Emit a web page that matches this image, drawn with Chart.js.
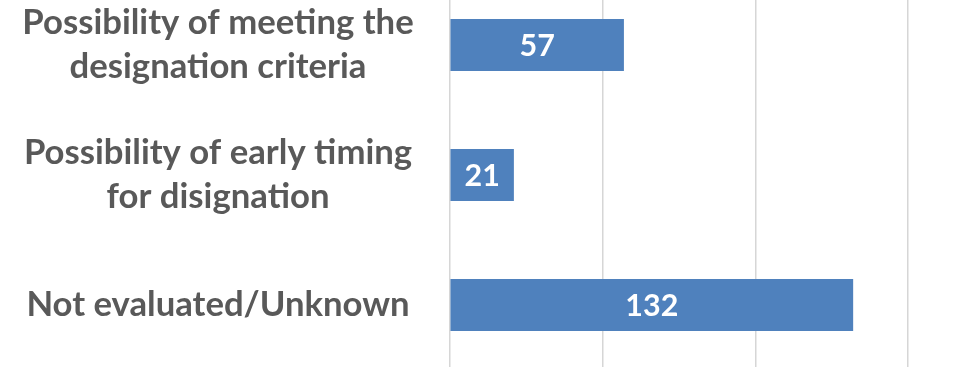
<!DOCTYPE html>
<html>
<head>
<meta charset="utf-8">
<script src="https://cdn.jsdelivr.net/npm/chart.js@4/dist/chart.umd.min.js"></script>
<style>
  html, body { margin: 0; padding: 0; background: #ffffff; overflow: hidden; width: 956px; height: 367px; }
  #wrap { position: absolute; left: 0; top: -20px; width: 1061px; height: 390px; }
</style>
</head>
<body>
<div id="wrap"><canvas id="c"></canvas></div>
<script>
// ---- data ----
const categories = [
  ["Possibility of meeting the", "designation criteria"],
  ["Possibility of early timing", "for disignation"],
  "Not evaluated/Unknown"
];
const values = [57, 21, 132];
const xTicks = [0, 50, 100, 150, 200];

// ---- font sizing (fit label widths to reference) ----
const FAMILY = "Lato, 'Open Sans', sans-serif";
function fitSize(text, target, weight) {
  const cx = document.createElement('canvas').getContext('2d');
  cx.font = weight + ' 100px ' + FAMILY;
  return 100 * target / cx.measureText(text).width;
}
const labelSize = (fitSize("Possibility of meeting the", 391, 'bold') + fitSize("Not evaluated/Unknown", 384, 'bold')) / 2;
const valueSize = fitSize("132", 53, 'bold');

const valueLabels = {
  id: 'valueLabels',
  afterDatasetsDraw(chart) {
    const ctx = chart.ctx;
    const meta = chart.getDatasetMeta(0);
    ctx.save();
    ctx.fillStyle = '#ffffff';
    ctx.font = 'bold ' + valueSize + 'px ' + FAMILY;
    ctx.textAlign = 'center';
    ctx.textBaseline = 'middle';
    meta.data.forEach((el, i) => {
      const p = el.getProps(['x', 'y', 'base'], true);
      ctx.fillText(String(chart.data.datasets[0].data[i]), (p.x + p.base) / 2, p.y + 1);
    });
    ctx.restore();
  }
};

new Chart(document.getElementById('c'), {
  type: 'bar',
  data: {
    labels: categories,
    datasets: [{
      data: values,
      backgroundColor: '#4F81BD',
      borderWidth: 0,
      barPercentage: 0.4,
      categoryPercentage: 1.0
    }]
  },
  options: {
    indexAxis: 'y',
    responsive: true,
    maintainAspectRatio: false,
    animation: false,
    layout: { padding: 0 },
    plugins: { legend: { display: false }, tooltip: { enabled: false } },
    scales: {
      x: {
        min: xTicks[0],
        max: xTicks[xTicks.length - 1],
        ticks: { stepSize: xTicks[1] - xTicks[0], display: false },
        grid: { color: '#d6d6d6', lineWidth: 1.5, drawTicks: false },
        border: { display: false },
        afterFit(s) { s.height = 0; s.paddingLeft = 0; s.paddingRight = 0; }
      },
      y: {
        grid: { display: false, drawTicks: false },
        border: { display: false },
        ticks: {
          crossAlign: 'center',
          padding: 36,
          color: '#595959',
          font: { family: FAMILY, weight: 'bold', size: labelSize, lineHeight: 44 / labelSize }
        },
        afterFit(s) { s.width = 449.7; s.paddingTop = 0; s.paddingBottom = 0; }
      }
    }
  },
  plugins: [valueLabels]
});
</script>
</body>
</html>
